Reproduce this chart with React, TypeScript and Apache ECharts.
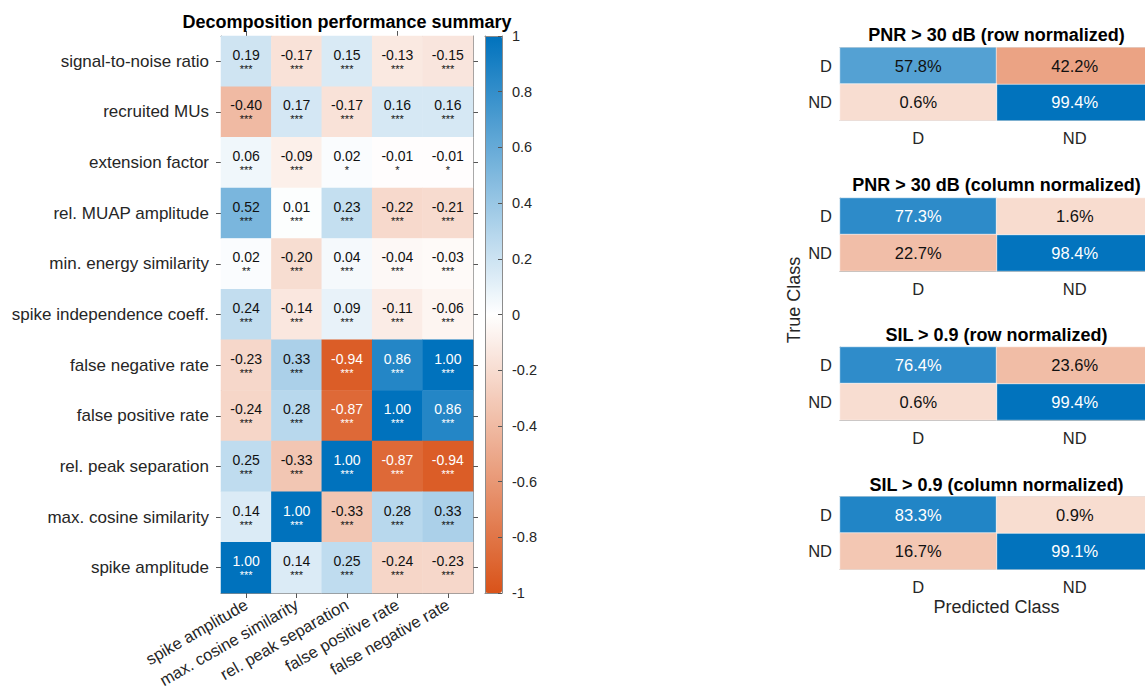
import React, { useEffect, useRef } from "react";
import * as echarts from "echarts";

const FONT = "'Liberation Sans', Arial, Helvetica, sans-serif";

// ---------- main correlation heatmap ----------
const featureRows = [
  "signal-to-noise ratio",
  "recruited MUs",
  "extension factor",
  "rel. MUAP amplitude",
  "min. energy similarity",
  "spike independence coeff.",
  "false negative rate",
  "false positive rate",
  "rel. peak separation",
  "max. cosine similarity",
  "spike amplitude",
];
const metricCols = [
  "spike amplitude",
  "max. cosine similarity",
  "rel. peak separation",
  "false positive rate",
  "false negative rate",
];
const corrValues = [
  [0.19, -0.17, 0.15, -0.13, -0.15],
  [-0.4, 0.17, -0.17, 0.16, 0.16],
  [0.06, -0.09, 0.02, -0.01, -0.01],
  [0.52, 0.01, 0.23, -0.22, -0.21],
  [0.02, -0.2, 0.04, -0.04, -0.03],
  [0.24, -0.14, 0.09, -0.11, -0.06],
  [-0.23, 0.33, -0.94, 0.86, 1.0],
  [-0.24, 0.28, -0.87, 1.0, 0.86],
  [0.25, -0.33, 1.0, -0.87, -0.94],
  [0.14, 1.0, -0.33, 0.28, 0.33],
  [1.0, 0.14, 0.25, -0.24, -0.23],
];
const starMarks = [
  ["***", "***", "***", "***", "***"],
  ["***", "***", "***", "***", "***"],
  ["***", "***", "*", "*", "*"],
  ["***", "***", "***", "***", "***"],
  ["**", "***", "***", "***", "***"],
  ["***", "***", "***", "***", "***"],
  ["***", "***", "***", "***", "***"],
  ["***", "***", "***", "***", "***"],
  ["***", "***", "***", "***", "***"],
  ["***", "***", "***", "***", "***"],
  ["***", "***", "***", "***", "***"],
];
const mainTitle = "Decomposition performance summary";

// ---------- confusion matrices ----------
const classLabels = ["D", "ND"];
const cmTitles = [
  "PNR > 30 dB (row normalized)",
  "PNR > 30 dB (column normalized)",
  "SIL > 0.9 (row normalized)",
  "SIL > 0.9 (column normalized)",
];
const pnrRowNorm = [
  [57.8, 42.2],
  [0.6, 99.4],
];
const pnrColNorm = [
  [77.3, 1.6],
  [22.7, 98.4],
];
const silRowNorm = [
  [76.4, 23.6],
  [0.6, 99.4],
];
const silColNorm = [
  [83.3, 0.9],
  [16.7, 99.1],
];
const cmMatrices = [pnrRowNorm, pnrColNorm, silRowNorm, silColNorm];

const BOX = "#8c8c8c";
const TXT = "#262626";

export default function App() {
  const ref = useRef<HTMLDivElement>(null);

  useEffect(() => {
    if (!ref.current) return;
    const chart = echarts.init(ref.current, undefined, { renderer: "svg" });

    const cmTops = [47.5, 198, 347, 496.5];
    const cmHeight = 73;
    const cmLeft = 840;
    const cmWidth = 313;

    const grids: any[] = [
      { left: 221, top: 36, width: 252, height: 557, outerBoundsMode: "none" },
      ...cmTops.map((t) => ({ left: cmLeft, top: t, width: cmWidth, height: cmHeight, outerBoundsMode: "none" })),
      { left: 485, top: 36, width: 17, height: 557, outerBoundsMode: "none" },
    ];

    const lineOnly = { show: true, onZero: false, lineStyle: { color: BOX, width: 1 } };

    const xAxes: any[] = [
      {
        type: "category",
        gridIndex: 0,
        data: metricCols,
        position: "bottom",
        axisLine: lineOnly,
        axisTick: { show: true, alignWithLabel: true, length: 5, lineStyle: { color: "#555" } },
        axisLabel: { rotate: 30, fontSize: 16.5, color: TXT, margin: 10, interval: 0 },
        splitLine: { show: false },
      },
      {
        type: "category",
        gridIndex: 0,
        data: metricCols,
        position: "top",
        axisLine: lineOnly,
        axisTick: { show: true, alignWithLabel: true, length: 5, lineStyle: { color: "#555" } },
        axisLabel: { show: false },
        splitLine: { show: false },
      },
    ];
    const yAxes: any[] = [
      {
        type: "category",
        gridIndex: 0,
        data: featureRows,
        inverse: true,
        position: "left",
        axisLine: lineOnly,
        axisTick: { show: true, alignWithLabel: true, length: 5, lineStyle: { color: "#555" } },
        axisLabel: { fontSize: 17, color: TXT, margin: 12, interval: 0 },
        splitLine: { show: false },
      },
      {
        type: "category",
        gridIndex: 0,
        data: featureRows,
        inverse: true,
        position: "right",
        axisLine: lineOnly,
        axisTick: { show: true, alignWithLabel: true, length: 5, lineStyle: { color: "#555" } },
        axisLabel: { show: false },
        splitLine: { show: false },
      },
    ];

    cmTops.forEach((_, i) => {
      const g = i + 1;
      xAxes.push({
        type: "category",
        gridIndex: g,
        data: classLabels,
        position: "bottom",
        axisLine: lineOnly,
        axisTick: { show: false },
        axisLabel: { fontSize: 16.5, color: TXT, margin: 9 },
        splitLine: { show: false },
      });
      xAxes.push({
        type: "category",
        gridIndex: g,
        data: classLabels,
        position: "top",
        axisLine: lineOnly,
        axisTick: { show: false },
        axisLabel: { show: false },
        splitLine: { show: false },
      });
      yAxes.push({
        type: "category",
        gridIndex: g,
        data: classLabels,
        inverse: true,
        position: "left",
        axisLine: lineOnly,
        axisTick: { show: false },
        axisLabel: { fontSize: 16.5, color: TXT, margin: 8 },
        splitLine: { show: false },
      });
      yAxes.push({
        type: "category",
        gridIndex: g,
        data: classLabels,
        inverse: true,
        position: "right",
        axisLine: lineOnly,
        axisTick: { show: false },
        axisLabel: { show: false },
        splitLine: { show: false },
      });
    });

    // colorbar frame + ticks (grid 5)
    xAxes.push(
      { type: "value", gridIndex: 5, min: 0, max: 1, position: "bottom", z: 10, axisLine: lineOnly, axisTick: { show: false }, axisLabel: { show: false }, splitLine: { show: false } },
      { type: "value", gridIndex: 5, min: 0, max: 1, position: "top", z: 10, axisLine: lineOnly, axisTick: { show: false }, axisLabel: { show: false }, splitLine: { show: false } }
    );
    yAxes.push(
      {
        type: "value",
        gridIndex: 5,
        min: -1,
        max: 1,
        interval: 0.2,
        position: "right",
        z: 10,
        axisLine: lineOnly,
        axisTick: { show: true, inside: true, length: 4, lineStyle: { color: "#555" } },
        axisLabel: { fontSize: 14.5, color: TXT, margin: 10 },
        splitLine: { show: false },
      },
      { type: "value", gridIndex: 5, min: -1, max: 1, position: "left", z: 10, axisLine: lineOnly, axisTick: { show: false }, axisLabel: { show: false }, splitLine: { show: false } }
    );

    // main heatmap data
    const mainData: any[] = [];
    corrValues.forEach((row, r) => row.forEach((v, c) => mainData.push([c, r, v])));

    const series: any[] = [
      {
        type: "heatmap",
        xAxisIndex: 0,
        yAxisIndex: 0,
        data: mainData,
        label: {
          show: true,
          offset: [0, -1],
          formatter: (p: any) => {
            const [c, r, v] = p.value;
            const dark = Math.abs(v) >= 0.7;
            return `{${dark ? "vw" : "vb"}|${v.toFixed(2)}}\n{${dark ? "sw" : "sb"}|${starMarks[r][c]}}`;
          },
          rich: {
            vb: { fontSize: 14, color: "#111", lineHeight: 17, align: "center", fontFamily: FONT },
            vw: { fontSize: 14, color: "#fff", lineHeight: 17, align: "center", fontFamily: FONT },
            sb: { fontSize: 11, color: "#111", lineHeight: 11, align: "center", fontFamily: FONT },
            sw: { fontSize: 11, color: "#fff", lineHeight: 11, align: "center", fontFamily: FONT },
          },
        },
        emphasis: { disabled: true },
      },
    ];

    const cmLabel = {
      show: true,
      formatter: (p: any) => {
        const v = p.value[2];
        const dark = p.value[3] === 1 && v > 70;
        return `{${dark ? "w" : "b"}|${v.toFixed(1)}%}`;
      },
      rich: {
        b: { fontSize: 16.5, color: "#111", fontFamily: FONT },
        w: { fontSize: 16.5, color: "#fff", fontFamily: FONT },
      },
    };
    const diagIdx: number[] = [];
    const offIdx: number[] = [];
    cmMatrices.forEach((m, i) => {
      const diag: any[] = [];
      const off: any[] = [];
      m.forEach((row, r) =>
        row.forEach((v, c) => {
          if (r === c) diag.push([c, r, v, 1]);
          else off.push([c, r, v, 0]);
        })
      );
      const xi = 2 + i * 2;
      const yi = 2 + i * 2;
      diagIdx.push(series.length);
      series.push({
        type: "heatmap",
        xAxisIndex: xi,
        yAxisIndex: yi,
        data: diag,
        itemStyle: { borderColor: "rgba(255,255,255,0.55)", borderWidth: 1 },
        label: cmLabel,
        emphasis: { disabled: true },
      });
      offIdx.push(series.length);
      series.push({
        type: "heatmap",
        xAxisIndex: xi,
        yAxisIndex: yi,
        data: off,
        itemStyle: { borderColor: "rgba(255,255,255,0.55)", borderWidth: 1 },
        label: cmLabel,
        emphasis: { disabled: true },
      });
    });

    const txt = (text: string, x: number, y: number, size: number, bold: boolean, rotation = 0) => ({
      type: "text",
      x,
      y,
      rotation,
      z: 100,
      style: {
        text,
        fill: bold ? "#000" : TXT,
        fontSize: size,
        fontWeight: bold ? "bold" : "normal",
        fontFamily: FONT,
        textAlign: "center",
        textVerticalAlign: "middle",
        align: "center",
        verticalAlign: "middle",
      },
    });

    const titleYs = [35, 185, 334.5, 484.5];
    const graphics: any[] = [
      txt(mainTitle, 347, 22, 18, true),
      ...cmTitles.map((t, i) => txt(t, cmLeft + cmWidth / 2, titleYs[i], 18, true)),
      txt("True Class", 794, 300, 18, false, Math.PI / 2),
      txt("Predicted Class", cmLeft + cmWidth / 2, 607, 18, false),
    ];

    chart.setOption({
      animation: false,
      backgroundColor: "#fff",
      textStyle: { fontFamily: FONT },
      grid: grids,
      xAxis: xAxes,
      yAxis: yAxes,
      visualMap: [
        {
          type: "continuous",
          min: -1,
          max: 1,
          seriesIndex: 0,
          dimension: 2,
          orient: "vertical",
          left: 485,
          top: 36,
          itemWidth: 17,
          itemHeight: 557,
          padding: 0,
          calculable: false,
          hoverLink: false,
          showLabel: false,
          inRange: { color: ["#D95319", "#FFFFFF", "#0072BD"] },
        },
        {
          type: "continuous",
          show: false,
          min: 0,
          max: 100,
          seriesIndex: diagIdx,
          dimension: 2,
          inRange: { color: ["#C8E1F2", "#0072BD"] },
        },
        {
          type: "continuous",
          show: false,
          min: 0,
          max: 100,
          seriesIndex: offIdx,
          dimension: 2,
          inRange: { color: ["#F8DED2", "#D95319"] },
        },
      ],
      series,
      graphic: graphics,
    });

    return () => chart.dispose();
  }, []);

  return (
    <div
      ref={ref}
      style={{ position: "absolute", left: 0, top: 0, width: 1145, height: 698, background: "#fff" }}
    />
  );
}
